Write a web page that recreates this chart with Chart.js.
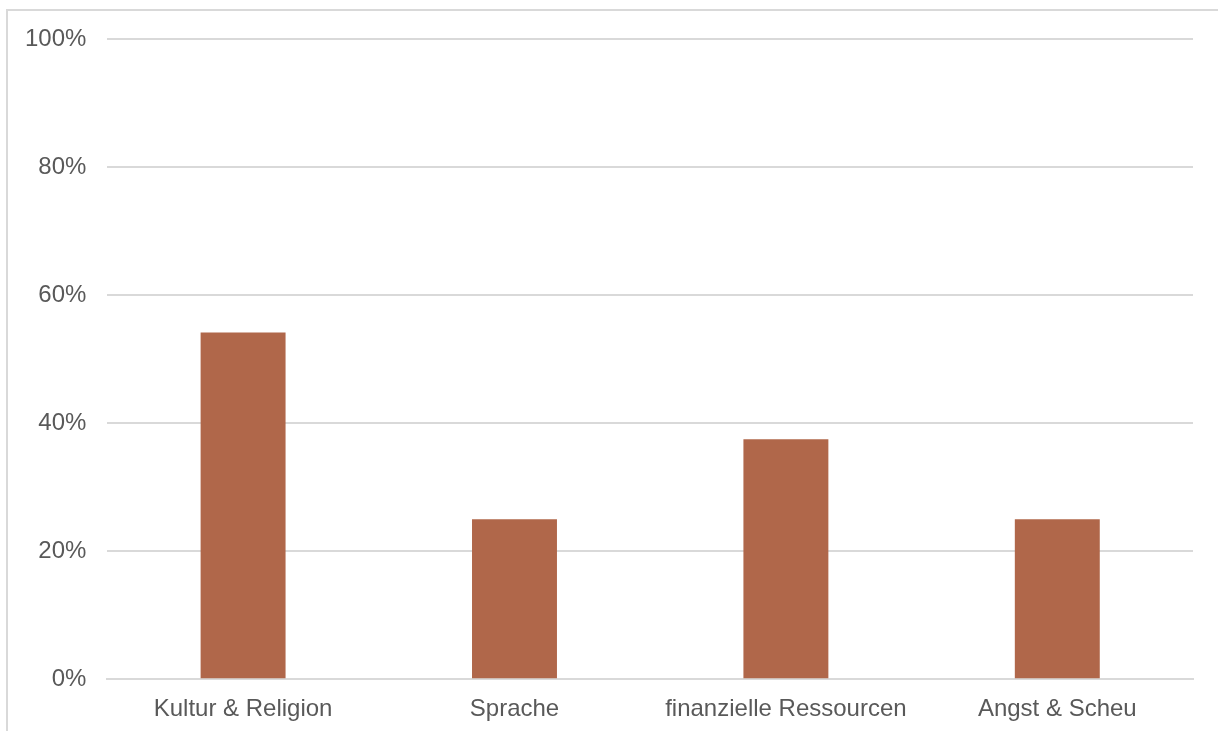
<!DOCTYPE html>
<html>
<head>
<meta charset="utf-8">
<script src="https://cdn.jsdelivr.net/npm/chart.js@4"></script>
<style>
  html, body { margin: 0; padding: 0; background: #fff; }
  #wrap { position: relative; width: 1218px; height: 731px; overflow: hidden; }
  #rahmen { position: absolute; left: 6px; top: 9px; width: 1300px; height: 800px;
    border-left: 2px solid #d9d9d9; border-top: 2px solid #d9d9d9; }
  #myChart { position: absolute; left: 0; top: 4px; }
</style>
</head>
<body>
<div id="wrap">
  <div id="rahmen"></div>
  <canvas id="myChart" width="1218" height="744"></canvas>
</div>
<script>
const kategorien = ['Kultur & Religion', 'Sprache', 'finanzielle Ressourcen', 'Angst & Scheu']
const anteile = [54.2, 25, 37.5, 25]
const yTicks = [0, 20, 40, 60, 80, 100]

const myChart = document.getElementById('myChart')
Chart.defaults.font.family = '"Liberation Sans", Arial, sans-serif'
Chart.defaults.font.size = 24
Chart.defaults.color = '#595959'

new Chart(myChart, {
  type: 'bar',
  data: {
    labels: kategorien,
    datasets: [{
      data: anteile,
      backgroundColor: '#b0674a',
      categoryPercentage: 1,
      barPercentage: 0.313
    }]
  },
  options: {
    responsive: false,
    animation: false,
    layout: { padding: { left: 4, right: 25, top: 29, bottom: 8 } },
    plugins: { legend: { display: false }, tooltip: { enabled: false } },
    scales: {
      x: {
        grid: { display: false, drawTicks: false },
        border: { color: '#d9d9d9', width: 2 },
        ticks: { padding: 16 }
      },
      y: {
        min: 0,
        max: 100,
        afterBuildTicks: (axis) => { axis.ticks = yTicks.map(v => ({ value: v })) },
        grid: { color: '#d9d9d9', lineWidth: 2, drawTicks: false },
        border: { display: false },
        ticks: { padding: 21, callback: (v) => v + '%' }
      }
    }
  }
})
</script>
</body>
</html>
